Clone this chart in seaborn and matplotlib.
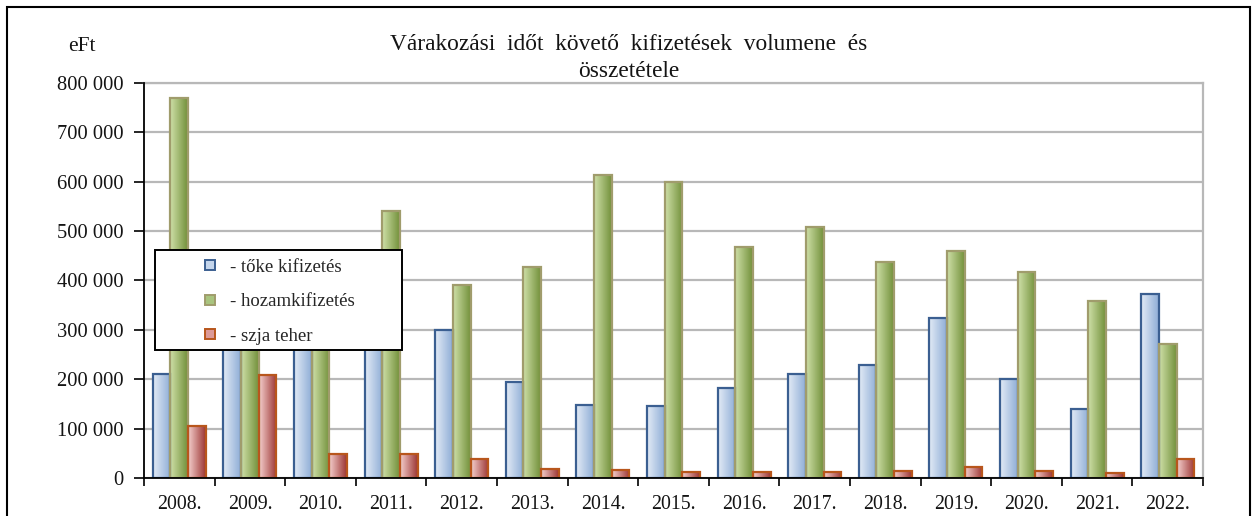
import numpy as np
import pandas as pd
import matplotlib
matplotlib.use("Agg")
import matplotlib.pyplot as plt
import seaborn as sns
from matplotlib.ticker import FuncFormatter, FixedLocator
from matplotlib.patches import Rectangle
from matplotlib.lines import Line2D
from matplotlib.colors import to_rgb

years = ["2008.", "2009.", "2010.", "2011.", "2012.", "2013.", "2014.", "2015.",
         "2016.", "2017.", "2018.", "2019.", "2020.", "2021.", "2022."]
toke = [211000, 290000, 310000, 340000, 300000, 194000, 148000, 145000,
        183000, 210000, 229000, 323000, 200000, 139000, 372000]
hozam = [770000, 380000, 420000, 540000, 390000, 427000, 614000, 600000,
         468000, 507000, 438000, 459000, 417000, 358000, 271000]
szja = [105000, 209000, 48000, 48000, 38000, 19000, 15500, 12000,
        12000, 12000, 15000, 22000, 14000, 9500, 39000]
series_names = ["- tőke kifizetés", "- hozamkifizetés", "- szja teher"]
title_text = "Várakozási  időt  követő  kifizetések  volumene  és\nösszetétele"
unit_text = "eFt"

df = pd.DataFrame({
    "year": years * 3,
    "value": toke + hozam + szja,
    "series": [series_names[0]] * len(years) + [series_names[1]] * len(years) + [series_names[2]] * len(years),
})

# styles: (light, dark, edge, legend face)
styles = [
    ("#e3ebf6", "#8eadd6", "#3b5f91", "#c5d6ec"),
    ("#cfe0a8", "#72903a", "#a09c6c", "#a9c47f"),
    ("#f4cfcd", "#9c3533", "#b8561c", "#dc9a98"),
]

sns.set_theme(style="white")
plt.rcParams["font.family"] = ["Liberation Serif", "DejaVu Serif"]

fig = plt.figure(figsize=(12.53, 5.16), dpi=100)
ax = fig.add_axes([144 / 1253, 1 - 478 / 516, (1203 - 144) / 1253, (478 - 82.7) / 516])

sns.barplot(data=df, x="year", y="value", hue="series", hue_order=series_names,
            order=years, width=0.75, ax=ax, legend=False, saturation=1,
            palette=[s[1] for s in styles], errorbar=None)

# gradient fills
for cont, (light, dark, edge, _) in zip(ax.containers, styles):
    c1 = np.array(to_rgb(light))
    c2 = np.array(to_rgb(dark))
    t = np.linspace(0, 1, 64)[:, None]
    grad = (c1 * (1 - t) + c2 * t)[None, :, :]
    for p in cont.patches:
        x0, y0 = p.get_x(), p.get_y()
        w, h = p.get_width(), p.get_height()
        p.set_facecolor("none")
        p.set_edgecolor(edge)
        p.set_linewidth(1.6)
        p.set_zorder(3)
        im = ax.imshow(grad, extent=[x0, x0 + w, y0, y0 + h], aspect="auto",
                       interpolation="bilinear", zorder=2.5)
        im.set_clip_path(p)

ax.set_ylim(0, 800000)
ax.set_xlim(-0.5, len(years) - 0.5)

ax.set_axisbelow(True)
ax.yaxis.grid(True, color="#b8b8b8", linewidth=1.6)
ax.xaxis.grid(False)
ax.set_yticks(np.arange(0, 800001, 100000))
ax.yaxis.set_major_formatter(FuncFormatter(lambda v, pos: f"{int(v):,}".replace(",", " ")))
ax.tick_params(axis="y", which="major", direction="out", length=7, width=1.2,
               color="black", left=True, labelsize=14.8, pad=8, labelcolor="#141414")
ax.tick_params(axis="x", which="major", length=0, labelsize=14.3, pad=12, labelcolor="#141414")
ax.xaxis.set_minor_locator(FixedLocator(np.arange(-0.5, len(years), 1.0)))
ax.tick_params(axis="x", which="minor", direction="out", length=6, width=1.2,
               color="black", bottom=True)
ax.set_xlabel("")
ax.set_ylabel("")

for side in ["left", "bottom"]:
    ax.spines[side].set_color("black")
    ax.spines[side].set_linewidth(1.3)
    ax.spines[side].set_zorder(4)
for side in ["top", "right"]:
    ax.spines[side].set_color("#b8b8b8")
    ax.spines[side].set_linewidth(1.6)

# legend with frame box
frame = Rectangle((0.0104, 0.324), 0.2332, 0.253, transform=ax.transAxes,
                  facecolor="white", edgecolor="black", linewidth=1.4, zorder=5)
ax.add_patch(frame)
handles = [Line2D([], [], linestyle="none", marker="s", markersize=7.5,
                  markerfacecolor=s[3], markeredgecolor=s[2], markeredgewidth=1.4)
           for s in styles]
leg = ax.legend(handles, series_names, loc="center left",
                bbox_to_anchor=(0.041, 0.446), frameon=False, fontsize=13.5,
                handlelength=1.0, handletextpad=0.55, labelspacing=0.92,
                borderpad=0.2)
leg.set_zorder(6)

fig.text(629 / 1253, 1 - 58 / 516, title_text, ha="center", va="center",
         fontsize=16.8, linespacing=1.4, color="#141414")
fig.text(82 / 1253, 1 - 47 / 516, unit_text, ha="center", va="center",
         fontsize=15.5, color="#141414")

outer = Rectangle((7 / 1253, -0.2), (1250 - 7) / 1253, 1.2 - 7 / 516,
                  transform=fig.transFigure, facecolor="none", edgecolor="black",
                  linewidth=1.5)
fig.patches.append(outer)

fig.savefig("out.png", dpi=100)
